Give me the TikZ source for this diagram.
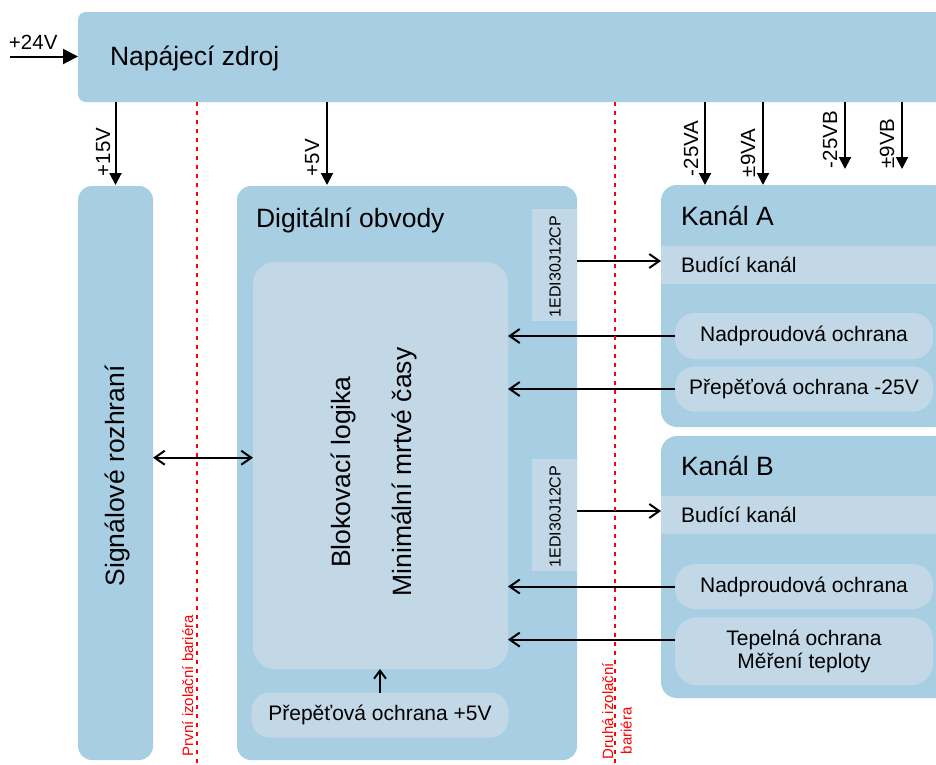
\documentclass[tikz,border=0pt]{standalone}
\usepackage{fontspec}
\setmainfont{Liberation Sans}
\usetikzlibrary{arrows.meta}

\definecolor{boxblue}{RGB}{168,206,228}
\definecolor{boxpale}{RGB}{194,216,231}
\definecolor{barred}{RGB}{255,0,0}

\newcommand{\txtbig}{\fontsize{26.5}{31}\selectfont}
\newcommand{\txtmid}{\fontsize{21}{22.4}\selectfont}
\newcommand{\txtvolt}{\fontsize{20.5}{24}\selectfont}
\newcommand{\txtchip}{\fontsize{16}{19}\selectfont}
\newcommand{\txtred}{\fontsize{15}{18.7}\selectfont}

\tikzset{
  blk/.style={draw=none, fill=boxblue, rounded corners=#1, inner sep=0pt, outer sep=0pt, anchor=north west},
  blk/.default=14pt,
  pill/.style={draw=none, fill=boxpale, rounded corners=#1, inner sep=0pt, outer sep=0pt, anchor=north west},
  pill/.default=20pt,
  band/.style={draw=none, fill=boxpale, inner sep=0pt, outer sep=0pt, anchor=north west},
  txt/.style={inner sep=0pt, outer sep=0pt},
  pwr/.style={line width=2pt, -{Triangle[length=12pt,width=12pt]}},
  pwrin/.style={line width=2pt, -{Triangle[length=15pt,width=15pt]}},
  link/.style={line width=2pt, -{Straight Barb[length=10pt,width=14pt]}},
  linkboth/.style={line width=2pt, {Straight Barb[length=10pt,width=14pt]}-{Straight Barb[length=10pt,width=14pt]}},
  barrier/.style={draw=barred, line width=2pt, dash pattern=on 4pt off 5pt},
  vlab/.style={txt, font=\txtvolt, rotate=90, anchor=base west},
}

\begin{document}
\begin{tikzpicture}[x=1pt,y=-1pt]
\clip (0,0) rectangle (936,764);
\fill[white] (0,0) rectangle (936,764);

% power supply
\node[blk=8pt, minimum width=880pt, minimum height=90pt] (psu) at (78,12) {};
\node[txt, font=\txtbig, anchor=base west] (psuT) at (110,65.5) {Napájecí zdroj};

% signal interface
\node[blk, minimum width=75pt, minimum height=574pt] (sig) at (78,186) {};
\node[txt, font=\txtbig, rotate=90] (sigT) at (117,476) {Signálové rozhraní};

% digital circuits
\node[blk, minimum width=340pt, minimum height=574pt] (dig) at (237,186) {};
\node[txt, font=\txtbig, anchor=base west] (digT) at (256,227) {Digitální obvody};
\node[pill=22pt, minimum width=255pt, minimum height=407pt] (logic) at (253,262) {};
\node[txt, font=\txtbig, rotate=90, anchor=base] (logT1) at (350,472) {Blokovací logika};
\node[txt, font=\txtbig, rotate=90, anchor=base] (logT2) at (411,472) {Minimální mrtvé časy};
\node[band, minimum width=45pt, minimum height=112pt] (drvA) at (532,208.5) {};
\node[txt, font=\txtchip, rotate=90] (drvAT) at (555,266.5) {1EDI30J12CP};
\node[band, minimum width=45pt, minimum height=112pt] (drvB) at (532,458.5) {};
\node[txt, font=\txtchip, rotate=90] (drvBT) at (555,516.5) {1EDI30J12CP};
\node[pill=18pt, minimum width=257pt, minimum height=45pt] (ov5) at (251.5,692.5) {};
\node[txt, font=\txtmid] (ov5T) at (ov5.center) {Přepěťová ochrana +5V};

% channel A
\node[blk=16pt, minimum width=290pt, minimum height=242pt] (chA) at (661,185) {};
\node[txt, font=\txtbig, anchor=base west] (chAT) at (681,225) {Kanál A};
\node[band, minimum width=300pt, minimum height=38pt] (budA) at (661,246) {};
\node[txt, font=\txtmid, anchor=base west] (budAT) at (681,272.7) {Budící kanál};
\node[pill, minimum width=258pt, minimum height=46pt] (ocA) at (675,313) {};
\node[txt, font=\txtmid] (ocAT) at (ocA.center) {Nadproudová ochrana};
\node[pill, minimum width=258pt, minimum height=45pt] (ovA) at (675,366.5) {};
\node[txt, font=\txtmid] (ovAT) at (ovA.center) {Přepěťová ochrana -25V};

% channel B
\node[blk=16pt, minimum width=290pt, minimum height=262pt] (chB) at (661,436) {};
\node[txt, font=\txtbig, anchor=base west] (chBT) at (681,475) {Kanál B};
\node[band, minimum width=300pt, minimum height=38pt] (budB) at (661,496) {};
\node[txt, font=\txtmid, anchor=base west] (budBT) at (681,522.7) {Budící kanál};
\node[pill, minimum width=258pt, minimum height=45pt] (ocB) at (675,564) {};
\node[txt, font=\txtmid] (ocBT) at (ocB.center) {Nadproudová ochrana};
\node[pill=22pt, minimum width=258pt, minimum height=68pt] (thB) at (675,617.3) {};
\node[txt, font=\txtmid, align=center] (thBT) at (thB.center) {Tepelná ochrana\\Měření teploty};

% supply input
\coordinate (in24) at (10,56.5);
\draw[pwrin] (in24) -- (in24 -| psu.west);
\node[txt, font=\txtvolt, anchor=base west] (in24T) at (9,49) {+24V};

% supply rails
\coordinate (p15) at (115.5,185);
\coordinate (p5) at (327,185);
\coordinate (pA1) at (705,185);
\coordinate (pA2) at (763,185);
\coordinate (pB1) at (845,169);
\coordinate (pB2) at (902,169);
\draw[pwr] (p15 |- psu.south) -- (p15);
\draw[pwr] (p5 |- psu.south) -- (p5);
\draw[pwr] (pA1 |- psu.south) -- (pA1);
\draw[pwr] (pA2 |- psu.south) -- (pA2);
\draw[pwr] (pB1 |- psu.south) -- (pB1);
\draw[pwr] (pB2 |- psu.south) -- (pB2);
\node[vlab] (p15T) at (110,176) {+15V};
\node[vlab] (p5T) at (319,176) {+5V};
\node[vlab] (pA1T) at (698,176) {-25VA};
\node[vlab] (pA2T) at (755,177) {±9VA};
\node[vlab] (pB1T) at (837,168) {-25VB};
\node[vlab] (pB2T) at (894,168.5) {±9VB};

% signal links
\draw[linkboth] ([yshift=15.3pt]sig.east) coordinate (s1) -- (s1 -| logic.west);
\draw[link] ([yshift=3.5pt]drvA.east) coordinate (a1) -- (a1 -| budA.west);
\draw[link] ([yshift=3.5pt]drvB.east) coordinate (b1) -- (b1 -| budB.west);
\draw[link] (ocA.west) -- (ocA.west -| logic.east);
\draw[link] (ovA.west) -- (ovA.west -| logic.east);
\draw[link] (ocB.west) -- (ocB.west -| logic.east);
\draw[link] ([yshift=11.7pt]thB.west) coordinate (t1) -- (t1 -| logic.east);
\draw[line width=2pt, -{Straight Barb[length=8pt,width=12pt]}] (ov5.north) -- (ov5.north |- logic.south);

% isolation barriers
\coordinate (bar1) at (197,764);
\coordinate (bar2) at (615,764);
\draw[barrier] (bar1 |- psu.south) -- (bar1);
\draw[barrier] (bar2 |- psu.south) -- (bar2);
\node[txt, font=\txtred, text=barred, rotate=90, anchor=base west] (bar1T) at (193,756) {První izolační bariéra};
\node[txt, font=\txtred, text=barred, rotate=90, anchor=base west] (bar2T) at (613,759) {Druhá izolační};
\node[txt, font=\txtred, text=barred, rotate=90, anchor=base west] (bar2U) at (631.7,754) {bariéra};
\end{tikzpicture}
\end{document}
